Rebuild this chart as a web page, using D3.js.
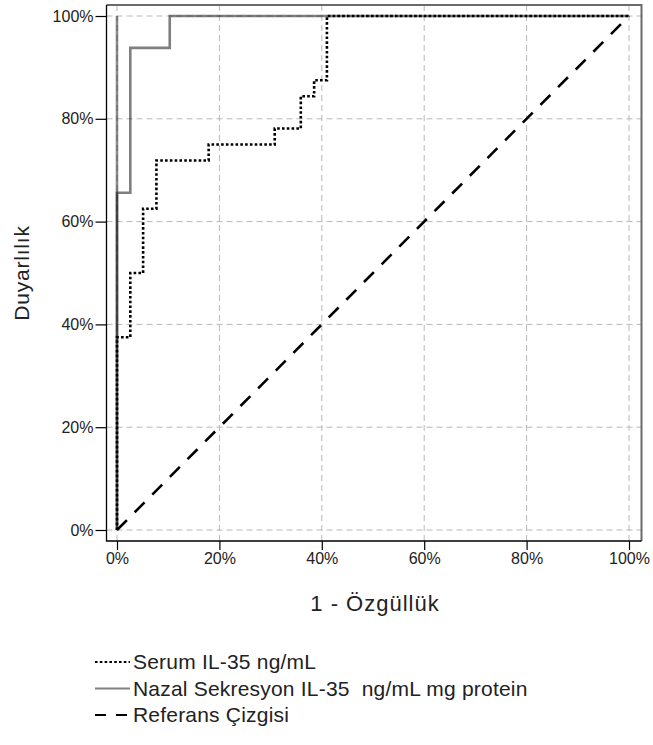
<!DOCTYPE html>
<html lang="tr">
  <head>
    <meta charset="UTF-8" />
    <title>ROC</title>
    <style>
      body { margin: 0; background: #fff; }
      text { font-family: "Liberation Sans", Arial, sans-serif; fill: #222; white-space: pre; }
      .grid line { stroke: #b8b8b8; stroke-width: 1; stroke-dasharray: 6, 4; }
      .axis line { stroke: #000; stroke-width: 1.2; }
      .axis text { font-size: 16px; fill: #222; }
    </style>
  </head>
  <body>
    <svg id="container" width="653" height="745"></svg>
    <script src="https://cdn.jsdelivr.net/npm/d3@7"></script>
    <script>
      // tick values for both axes
      let tickValues = [0, 0.2, 0.4, 0.6, 0.8, 1];

      // serum IL-35 ROC corners (1 - specificity, sensitivity)
      let serumFpr = [0, 0, 0.026, 0.026, 0.051, 0.051, 0.077, 0.077, 0.179, 0.179, 0.308, 0.308, 0.359, 0.359, 0.385, 0.385, 0.41, 0.41, 1];
      let serumTpr = [0, 0.375, 0.375, 0.5, 0.5, 0.625, 0.625, 0.719, 0.719, 0.75, 0.75, 0.781, 0.781, 0.844, 0.844, 0.875, 0.875, 1, 1];

      // nasal secretion IL-35 ROC corners
      let nazalFpr = [0, 0, 0.026, 0.026, 0.103, 0.103, 1];
      let nazalTpr = [0, 0.656, 0.656, 0.938, 0.938, 1, 1];
      // tied values at x = 0
      let nazalTieFpr = [0, 0];
      let nazalTieTpr = [0, 1];

      // reference diagonal
      let refFpr = [0, 1];
      let refTpr = [0, 1];

      let legendLabels = ["Serum IL-35 ng/mL", "Nazal Sekresyon IL-35  ng/mL mg protein", "Referans Çizgisi"];

      let svg = d3.select("#container");
      let frame = { left: 106.5, right: 641.5, top: 5, bottom: 541 };

      let xScale = d3.scaleLinear().domain([0, 1]).range([117, 629]);
      let yScale = d3.scaleLinear().domain([0, 1]).range([530, 16]);

      // dashed grid
      let grid = svg.append("g").attr("class", "grid");
      grid.selectAll(".gx").data(tickValues).enter().append("line")
        .attr("x1", d => xScale(d)).attr("x2", d => xScale(d))
        .attr("y1", frame.top).attr("y2", frame.bottom);
      grid.selectAll(".gy").data(tickValues).enter().append("line")
        .attr("x1", frame.left).attr("x2", frame.right)
        .attr("y1", d => yScale(d)).attr("y2", d => yScale(d));

      // frame: top and right grey, left and bottom black
      svg.append("path")
        .attr("d", `M${frame.left},${frame.top}H${frame.right}V${frame.bottom}`)
        .attr("fill", "none").attr("stroke", "#6a6a6a").attr("stroke-width", 2);
      svg.append("path")
        .attr("d", `M${frame.left},${frame.top}V${frame.bottom}H${frame.right}`)
        .attr("fill", "none").attr("stroke", "#000").attr("stroke-width", 1.3);

      // axes
      let fmt = d3.format(".0%");
      let yAxis = svg.append("g").attr("class", "axis")
        .attr("transform", `translate(${frame.left},0)`)
        .call(d3.axisLeft(yScale).tickValues(tickValues).tickFormat(fmt).tickSize(11).tickPadding(2));
      yAxis.select(".domain").remove();

      let xAxis = svg.append("g").attr("class", "axis")
        .attr("transform", `translate(0,${frame.bottom})`)
        .call(d3.axisBottom(xScale).tickValues(tickValues).tickFormat(fmt).tickSize(9).tickPadding(3));
      xAxis.select(".domain").remove();

      // axis titles
      svg.append("text").attr("x", 375).attr("y", 611)
        .attr("text-anchor", "middle").style("font-size", "22px").style("letter-spacing", "1px")
        .text("1 - Özgüllük");
      svg.append("text").attr("transform", "translate(29,273) rotate(-90)")
        .attr("text-anchor", "middle").style("font-size", "21px").style("letter-spacing", "0.8px")
        .text("Duyarlılık");

      let toPoints = (xs, ys) => xs.map((x, i) => [x, ys[i]]);
      let line = d3.line().x(d => xScale(d[0])).y(d => yScale(d[1]));

      // reference line
      svg.append("path").datum(toPoints(refFpr, refTpr)).attr("d", line)
        .attr("fill", "none").attr("stroke", "#000").attr("stroke-width", 2.6)
        .attr("stroke-dasharray", "14,11");

      // serum curve
      svg.append("path").datum(toPoints(serumFpr, serumTpr)).attr("d", line)
        .attr("fill", "none").attr("stroke", "#000").attr("stroke-width", 2.6)
        .attr("stroke-dasharray", "2.6,2.2");

      // nasal curve (semi-transparent so overlaps darken)
      svg.append("path").datum(toPoints(nazalTieFpr, nazalTieTpr)).attr("d", line)
        .attr("fill", "none").attr("stroke", "#000").attr("stroke-opacity", 0.45).attr("stroke-width", 2.6);
      svg.append("path").datum(toPoints(nazalFpr, nazalTpr)).attr("d", line)
        .attr("fill", "none").attr("stroke", "#000").attr("stroke-opacity", 0.5).attr("stroke-width", 2.6);

      // legend
      let legendStyles = [
        { dash: "2.6,2.2", color: "#000", opacity: 1 },
        { dash: null, color: "#000", opacity: 0.5 },
        { dash: "11,10", color: "#000", opacity: 1 }
      ];
      let legend = svg.append("g");
      let rows = legend.selectAll("g").data(legendLabels).enter().append("g")
        .attr("transform", (d, i) => `translate(95,${662 + i * 26.5})`);
      rows.append("line").attr("x1", 0).attr("x2", 35).attr("y1", 0).attr("y2", 0)
        .attr("stroke", (d, i) => legendStyles[i].color)
        .attr("stroke-opacity", (d, i) => legendStyles[i].opacity)
        .attr("stroke-width", 2.2)
        .attr("stroke-dasharray", (d, i) => legendStyles[i].dash);
      rows.append("text").attr("x", 38).attr("y", 0).attr("dy", "0.35em")
        .style("font-size", "21px").style("letter-spacing", "0.2px").text(d => d);
    </script>
  </body>
</html>
